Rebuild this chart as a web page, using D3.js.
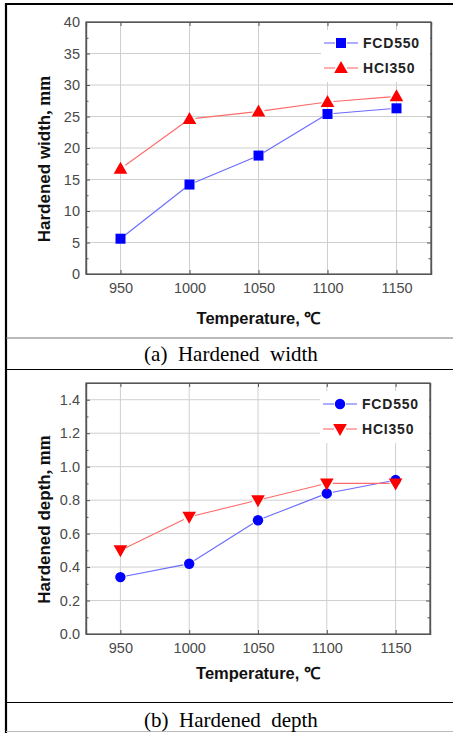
<!DOCTYPE html>
<html><head><meta charset="utf-8">
<script src="https://cdn.jsdelivr.net/npm/d3@7"></script>
<style>body{margin:0;background:#fff}svg{display:block}</style>
</head><body>
<svg id="c" width="453" height="733"></svg>
<script>
const temps = [950, 1000, 1050, 1100, 1150];
const xTicks = [950, 1000, 1050, 1100, 1150];
const widthFCD = [5.6, 14.2, 18.8, 25.4, 26.3];
const widthHCI = [16.7, 24.6, 25.8, 27.3, 28.2];
const depthFCD = [0.34, 0.42, 0.68, 0.84, 0.92];
const depthHCI = [0.50, 0.70, 0.80, 0.90, 0.90];
const widthTicks = [0, 5, 10, 15, 20, 25, 30, 35, 40];
const depthTicks = [0, 0.2, 0.4, 0.6, 0.8, 1.0, 1.2, 1.4];
const seriesNames = ["FCD550", "HCI350"];

const svg = d3.select("#c");
const blue = "#0000ff", red = "#ff0000";
const blueLine = "#6a6aff", redLine = "#ff6a6a";
const SANS = "Liberation Sans, Arial, sans-serif";
const SERIF = "Liberation Serif, Times New Roman, serif";

// frame
svg.append("line").attr("x1",6).attr("x2",6).attr("y1",3).attr("y2",733).attr("stroke","#000").attr("stroke-width",2.2);
svg.append("line").attr("x1",5).attr("x2",453).attr("y1",4).attr("y2",4).attr("stroke","#000").attr("stroke-width",2);
svg.append("line").attr("x1",6).attr("x2",453).attr("y1",338).attr("y2",338).attr("stroke","#777").attr("stroke-width",1.2);
svg.append("line").attr("x1",6).attr("x2",453).attr("y1",369.5).attr("y2",369.5).attr("stroke","#000").attr("stroke-width",1);
svg.append("line").attr("x1",6).attr("x2",453).attr("y1",702.5).attr("y2",702.5).attr("stroke","#000").attr("stroke-width",1);
svg.append("line").attr("x1",6).attr("x2",453).attr("y1",731.5).attr("y2",731.5).attr("stroke","#bbb").attr("stroke-width",1);

function panel(o) {
  const g = svg.append("g");
  const x = d3.scaleLinear().domain([925, 1175]).range([o.left, o.right]);
  const y = d3.scaleLinear().domain(o.ydom).range([o.bottom, o.top]);
  // grid
  g.selectAll(".gx").data(xTicks).enter().append("line")
    .attr("x1", d=>x(d)).attr("x2", d=>x(d)).attr("y1", o.top).attr("y2", o.bottom)
    .attr("stroke","#cfcfcf").attr("stroke-width",1);
  g.selectAll(".gy").data(o.yticks.slice(1)).enter().append("line")
    .attr("x1", o.left).attr("x2", o.right).attr("y1", d=>y(d)).attr("y2", d=>y(d))
    .attr("stroke","#cfcfcf").attr("stroke-width",1);
  // axes
  g.append("g").attr("transform",`translate(${o.left},0)`)
    .call(d3.axisLeft(y).tickValues(o.yticks).tickFormat(o.fmt).tickSize(-4).tickPadding(6));
  g.append("g").attr("transform",`translate(${o.right},0)`)
    .call(d3.axisRight(y).tickValues(o.yticks).tickFormat("").tickSize(-4));
  g.append("g").attr("transform",`translate(0,${o.bottom})`)
    .call(d3.axisBottom(x).tickValues(xTicks).tickFormat(d3.format("d")).tickSize(-4).tickPadding(9));
  g.append("g").attr("transform",`translate(0,${o.top})`)
    .call(d3.axisTop(x).tickValues(xTicks).tickFormat("").tickSize(-4));
  // minor y ticks
  const minors = o.yticks.slice(0,-1).map((d,i)=> (d + o.yticks[i+1])/2);
  if (o.ydom[1] > o.yticks[o.yticks.length-1]) minors.push(o.yticks[o.yticks.length-1] + (o.yticks[1]-o.yticks[0])/2);
  g.append("g").attr("transform",`translate(${o.left},0)`).call(d3.axisLeft(y).tickValues(minors).tickFormat("").tickSize(-2.5));
  g.append("g").attr("transform",`translate(${o.right},0)`).call(d3.axisRight(y).tickValues(minors).tickFormat("").tickSize(-2.5));
  g.selectAll(".domain").attr("stroke","#555").attr("stroke-width",1.2);
  g.selectAll(".tick line").attr("stroke","#555");
  g.selectAll(".tick text").attr("font-family",SANS).attr("font-size",14.5).attr("fill","#4a4a4a");
  g.append("rect").attr("x",o.left).attr("y",o.top).attr("width",o.right-o.left).attr("height",o.bottom-o.top)
    .attr("fill","none").attr("stroke","#555").attr("stroke-width",1.2);

  // legend box
  g.append("rect").attr("x", o.legX).attr("y", o.legY).attr("width", o.right - o.legX - 1).attr("height", 52).attr("fill","#fff");

  // series
  const sets = [
    {vals:o.s1, color:blue, lc:blueLine, marker:o.m1, name:seriesNames[0]},
    {vals:o.s2, color:red, lc:redLine, marker:o.m2, name:seriesNames[1]}
  ];
  sets.forEach((s, si) => {
    const pts = temps.map((t,i)=>[x(t), y(s.vals[i])]);
    const gap = 6;
    for (let i=0;i<pts.length-1;i++){
      const [x1,y1]=pts[i],[x2,y2]=pts[i+1];
      const L=Math.hypot(x2-x1,y2-y1);
      if (L < 2*gap) continue;
      const ux=(x2-x1)/L, uy=(y2-y1)/L;
      g.append("line").attr("x1",x1+ux*gap).attr("y1",y1+uy*gap).attr("x2",x2-ux*gap).attr("y2",y2-uy*gap)
        .attr("stroke",s.lc).attr("stroke-width",1.1);
    }
    pts.forEach(p => drawMarker(g, s.marker, p[0], p[1], s.color));
    // legend entry
    const ly = o.legY + 13 + si*25;
    const lx1 = o.legX + 3, lx2 = o.legX + 37, mx = (lx1+lx2)/2;
    g.append("line").attr("x1",lx1).attr("x2",mx-6).attr("y1",ly).attr("y2",ly).attr("stroke",s.lc).attr("stroke-width",1.1);
    g.append("line").attr("x1",mx+6).attr("x2",lx2).attr("y1",ly).attr("y2",ly).attr("stroke",s.lc).attr("stroke-width",1.1);
    drawMarker(g, s.marker, mx, ly, s.color);
    g.append("text").attr("x", lx2 + 5).attr("y", ly + 5).text(s.name)
      .attr("font-family",SANS).attr("font-weight","bold")
      .attr("font-size",14).attr("letter-spacing",0.8).attr("fill","#222");
  });

  // axis titles
  const yl = g.append("text").attr("transform",`translate(${o.left-36},${(o.top+o.bottom)/2 + 11}) rotate(-90)`)
    .attr("text-anchor","middle").attr("font-weight","bold").attr("fill","#111");
  yl.append("tspan").attr("font-family",SANS).attr("font-size",17).text(o.ylabel);
  yl.append("tspan").attr("font-family",SERIF).attr("font-size",18).text(", mm");
  g.append("text").attr("x", (o.left+o.right)/2).attr("y", o.xtY).attr("text-anchor","middle").text("Temperature, ℃")
    .attr("font-family",SANS).attr("font-weight","bold").attr("font-size",16.5).attr("fill","#111");
  g.append("text").attr("x", 231).attr("y", o.capY).attr("text-anchor","middle").attr("xml:space","preserve")
    .text(o.caption).attr("font-family",SERIF).attr("font-size",21).attr("fill","#000");
}

function drawMarker(g, type, cx, cy, color){
  if (type === "square") {
    g.append("rect").attr("x",cx-5).attr("y",cy-5).attr("width",10).attr("height",10).attr("fill",color);
  } else if (type === "circle") {
    g.append("circle").attr("cx",cx).attr("cy",cy).attr("r",5.2).attr("fill",color);
  } else if (type === "up") {
    g.append("path").attr("d",`M${cx},${cy-7}L${cx+6.8},${cy+5}L${cx-6.8},${cy+5}Z`).attr("fill",color);
  } else {
    g.append("path").attr("d",`M${cx},${cy+7}L${cx+6.8},${cy-5}L${cx-6.8},${cy-5}Z`).attr("fill",color);
  }
}

panel({left:86, right:431, top:22, bottom:274, ydom:[0,40], yticks:widthTicks, fmt:d3.format("d"),
  s1:widthFCD, s2:widthHCI, m1:"square", m2:"up", legX:321, legY:30,
  ylabel:"Hardened width", caption:"(a)  Hardened  width", capY:361, xtY:324});
panel({left:86, right:430, top:383, bottom:634, ydom:[0,1.5], yticks:depthTicks, fmt:d3.format(".1f"),
  s1:depthFCD, s2:depthHCI, m1:"circle", m2:"down", legX:320, legY:391,
  ylabel:"Hardened depth", caption:"(b)  Hardened  depth", capY:726.5, xtY:679});
</script>
</body></html>
